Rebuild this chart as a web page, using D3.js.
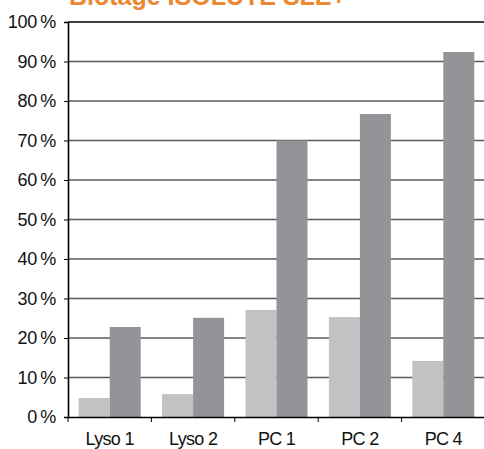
<!DOCTYPE html>
<html><head><meta charset="utf-8">
<script src="https://cdn.jsdelivr.net/npm/d3@7"></script>
<style>body{margin:0;background:#fff}svg{display:block}</style>
</head><body>
<svg id="c" width="484" height="449"></svg>
<script>
const categories = ["Lyso 1", "Lyso 2", "PC 1", "PC 2", "PC 4"];
const seriesLight = [4.8, 5.8, 27.1, 25.3, 14.2];
const seriesDark = [22.8, 25.1, 70.0, 76.7, 92.4];
const yTicks = [0, 10, 20, 30, 40, 50, 60, 70, 80, 90, 100];
const title = "Biotage ISOLUTE SLE+";

const font = "Liberation Sans, Arial, Helvetica, sans-serif";
const svg = d3.select("#c");
const x = d3.scaleBand().domain(categories).range([68, 485]).paddingInner(0).paddingOuter(0);
const y = d3.scaleLinear().domain([0, 100]).range([417, 22]);
const sub = d3.scaleBand().domain(["light", "dark"]).range([0, x.bandwidth()]).paddingInner(0).paddingOuter(0.345);

// gridlines
svg.append("g").selectAll("line").data(yTicks.filter(d => d > 0 && d < 100)).join("line")
  .attr("x1", 68).attr("x2", 484).attr("y1", d => y(d)).attr("y2", d => y(d))
  .attr("stroke", "#5a5a5a").attr("stroke-width", 1.6);
svg.append("line").attr("x1", 68).attr("x2", 484).attr("y1", y(100)).attr("y2", y(100))
  .attr("stroke", "#000").attr("stroke-width", 1.6);

// bars
const g = svg.append("g");
g.selectAll("rect.l").data(categories).join("rect").attr("class", "l")
  .attr("x", (d) => x(d) + sub("light")).attr("width", sub.bandwidth())
  .attr("y", (d, i) => y(seriesLight[i])).attr("height", (d, i) => y(0) - y(seriesLight[i]))
  .attr("fill", "#c1c2c4");
g.selectAll("rect.d").data(categories).join("rect").attr("class", "d")
  .attr("x", (d) => x(d) + sub("dark")).attr("width", sub.bandwidth())
  .attr("y", (d, i) => y(seriesDark[i])).attr("height", (d, i) => y(0) - y(seriesDark[i]))
  .attr("fill", "#939497");

// y axis
const yAxis = d3.axisLeft(y).tickValues(yTicks).tickSize(4).tickPadding(8)
  .tickFormat(d => d + "\u2009%");
const ya = svg.append("g").attr("transform", "translate(68,0)").call(yAxis);
ya.select(".domain").attr("stroke", "#000").attr("stroke-width", 1.6);
ya.selectAll(".tick line").attr("stroke", "#000").attr("stroke-width", 1);
ya.selectAll("text").attr("font-family", font).attr("font-size", 18).attr("fill", "#111")
  .attr("letter-spacing", -0.3);

// x axis
const xAxis = d3.axisBottom(x).tickSize(0).tickPadding(15);
const xa = svg.append("g").attr("transform", "translate(0,417)").call(xAxis);
xa.select(".domain").attr("stroke", "#000").attr("stroke-width", 1.6);
xa.selectAll("text").attr("font-family", font).attr("font-size", 18).attr("fill", "#111")
  .attr("letter-spacing", -0.7);
// small tick marks at band boundaries
xa.append("g").selectAll("line").data(categories.slice(1)).join("line")
  .attr("x1", d => x(d)).attr("x2", d => x(d)).attr("y1", 0).attr("y2", 5)
  .attr("stroke", "#000").attr("stroke-width", 1);
xa.append("line").attr("x1", 68).attr("x2", 68).attr("y1", 0).attr("y2", 5).attr("stroke", "#000");

// title (cut off at the top, as in the reference)
svg.append("text").attr("x", 69).attr("y", 5).text(title)
  .attr("font-family", font).attr("font-weight", "bold")
  .attr("font-size", 25).attr("fill", "#ec8734");
</script>
</body></html>
